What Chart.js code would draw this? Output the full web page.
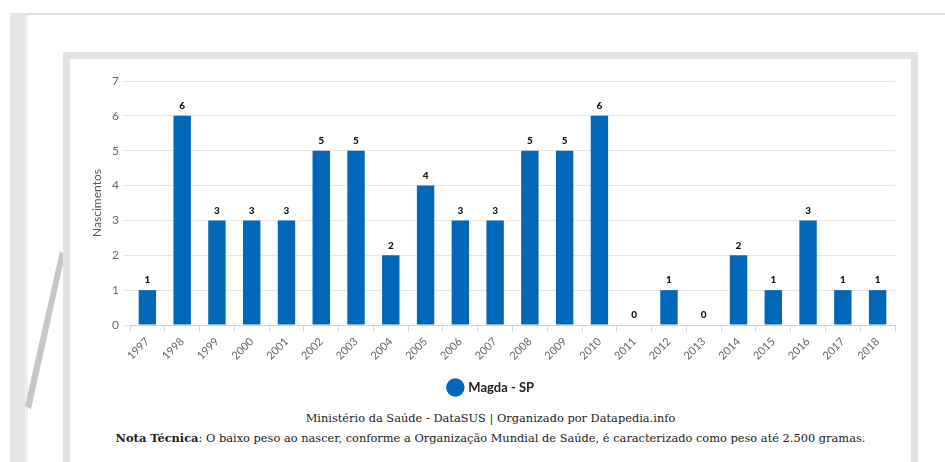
<!DOCTYPE html>
<html>
<head>
<meta charset="utf-8">
<script src="https://cdn.jsdelivr.net/npm/chart.js@4.4.1/dist/chart.umd.min.js"></script>
<style>
    body { margin: 0; width: 945px; height: 462px; background: #fff; position: relative; overflow: hidden; font-family: 'Lato', sans-serif; }
    #stripe { position: absolute; left: 10px; top: 13px; width: 15px; height: 449px; background: #e6e6e6; border-right: 3px solid #f0f0f0; }
    #topline { position: absolute; left: 25px; top: 13px; width: 920px; height: 2px; background: #e0e0e0; }
    #deco { position: absolute; left: 0; top: 0; }
    #card { position: absolute; left: 63px; top: 52px; width: 841px; height: 420px; border: 7px solid #e3e3e3; background: #fff; }
    #chartBox { position: absolute; left: 0; top: 0; width: 841px; height: 345px; }
    .foot { position: absolute; left: 0; width: 841px; text-align: center; font-family: 'DejaVu Serif'; font-size: 11.4px; color: #222; }
</style>
</head>
<body>
<div id="stripe"></div>
<div id="topline"></div>
<svg id="deco" width="945" height="462"><polygon points="60,251 65,255 31,409 25,406" fill="#c6c6c6"/></svg>
<div id="card">
    <div id="chartBox"><canvas id="chart"></canvas></div>
    <div class="foot" style="top:352px">Ministério da Saúde - DataSUS | Organizado por Datapedia.info</div>
    <div class="foot" style="top:372px"><b>Nota Técnica</b>: O baixo peso ao nascer, conforme a Organização Mundial de Saúde, é caracterizado como peso até 2.500 gramas.</div>
</div>
<script>
// Chart data
const years = ['1997', '1998', '1999', '2000', '2001', '2002', '2003', '2004', '2005', '2006', '2007',
    '2008', '2009', '2010', '2011', '2012', '2013', '2014', '2015', '2016', '2017', '2018'];
const births = [1, 6, 3, 3, 3, 5, 5, 2, 4, 3, 3, 5, 5, 6, 0, 1, 0, 2, 1, 3, 1, 1];
const seriesName = 'Magda - SP';
const axisTitle = 'Nascimentos';

// Value labels above each bar
const valueLabels = {
    id: 'valueLabels',
    afterDatasetsDraw(chart) {
        const ctx = chart.ctx;
        const meta = chart.getDatasetMeta(0);
        ctx.save();
        ctx.font = '900 10px Lato, sans-serif';
        ctx.fillStyle = '#111';
        ctx.textAlign = 'center';
        ctx.textBaseline = 'middle';
        meta.data.forEach((bar, i) => {
            ctx.fillText(births[i], bar.x, bar.y - 10);
        });
        ctx.restore();
    }
};

const ctx = document.getElementById('chart').getContext('2d');
new Chart(ctx, {
    type: 'bar',
    data: {
        labels: years,
        datasets: [{
            label: seriesName,
            data: births,
            backgroundColor: '#0067b9',
            categoryPercentage: 1,
            barPercentage: 0.5
        }]
    },
    options: {
        responsive: true,
        maintainAspectRatio: false,
        animation: false,
        layout: { padding: { top: 22, right: 16, left: 18, bottom: 0 } },
        plugins: {
            legend: {
                position: 'bottom',
                labels: {
                    usePointStyle: true,
                    pointStyle: 'circle',
                    boxWidth: 13,
                    boxHeight: 13,
                    padding: 10,
                    color: '#222',
                    font: { family: 'Lato', size: 13, weight: 'bold' }
                }
            },
            tooltip: { enabled: false }
        },
        scales: {
            x: {
                grid: { drawOnChartArea: false, tickLength: 7, color: '#ccd6eb' },
                border: { color: '#ccd6eb' },
                ticks: {
                    minRotation: 45,
                    maxRotation: 45,
                    color: '#666',
                    font: { family: 'Lato', size: 11 }
                },
                afterFit(scale) { scale.height = 46; }
            },
            y: {
                min: 0,
                max: 7,
                ticks: { stepSize: 1, color: '#666', padding: 4, font: { family: 'Lato', size: 12 } },
                grid: { color: '#e6e6e6', tickLength: 7 },
                border: { display: false },
                title: { display: true, text: axisTitle, color: '#555', font: { family: 'Lato', size: 12 }, padding: 2 },
                afterFit(scale) { scale.width = 42; }
            }
        }
    },
    plugins: [valueLabels]
});
</script>
</body>
</html>
